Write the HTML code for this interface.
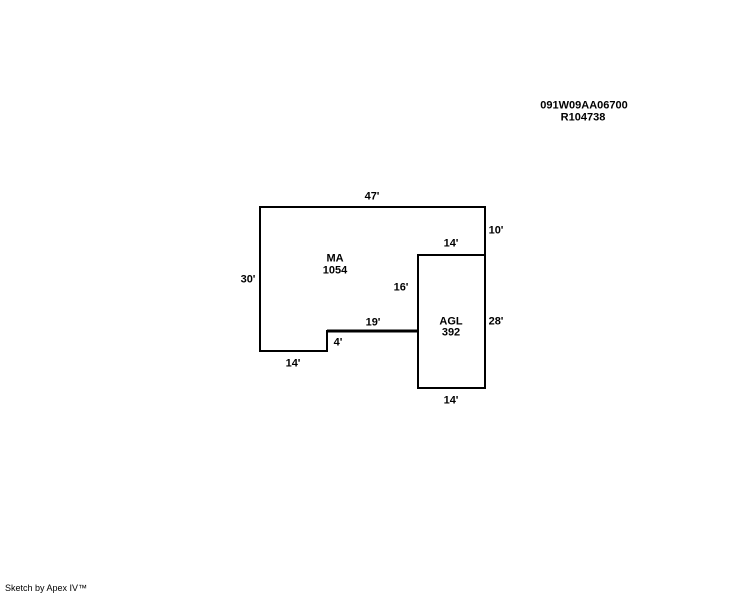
<!DOCTYPE html>
<html><head><meta charset="utf-8"><style>
html,body{margin:0;padding:0;background:#fff;}
body{width:744px;height:595px;position:relative;overflow:hidden;font-family:"Liberation Sans",Arial,sans-serif;}
.t{position:absolute;font-size:11px;font-weight:bold;color:#000;transform:translate(-50%,-50%);white-space:nowrap;line-height:1;}
</style></head><body>
<svg width="744" height="595" style="position:absolute;left:0;top:0">
<g fill="none" stroke="#000" stroke-width="2">
<polyline points="418,331 327,331 327,351 260,351 260,207 485,207 485,255"/>
<rect x="418" y="255" width="67" height="133"/>
</g>
<line x1="327" y1="331" x2="418" y2="331" stroke="#000" stroke-width="3"/>
</svg>
<div class="t" style="left:584px;top:106px">091W09AA06700</div>
<div class="t" style="left:583px;top:118px">R104738</div>
<div class="t" style="left:372px;top:197px">47'</div>
<div class="t" style="left:496px;top:231px">10'</div>
<div class="t" style="left:451px;top:244px">14'</div>
<div class="t" style="left:335px;top:259px">MA</div>
<div class="t" style="left:335px;top:271px">1054</div>
<div class="t" style="left:248px;top:280px">30'</div>
<div class="t" style="left:401px;top:288px">16'</div>
<div class="t" style="left:373px;top:323px">19'</div>
<div class="t" style="left:451px;top:322px">AGL</div>
<div class="t" style="left:451px;top:333px">392</div>
<div class="t" style="left:496px;top:322px">28'</div>
<div class="t" style="left:338px;top:343px">4'</div>
<div class="t" style="left:293px;top:364px">14'</div>
<div class="t" style="left:451px;top:401px">14'</div>
<div style="position:absolute;left:5px;top:584px;font-size:9px;line-height:1;">Sketch by Apex IV™</div>
</body></html>
